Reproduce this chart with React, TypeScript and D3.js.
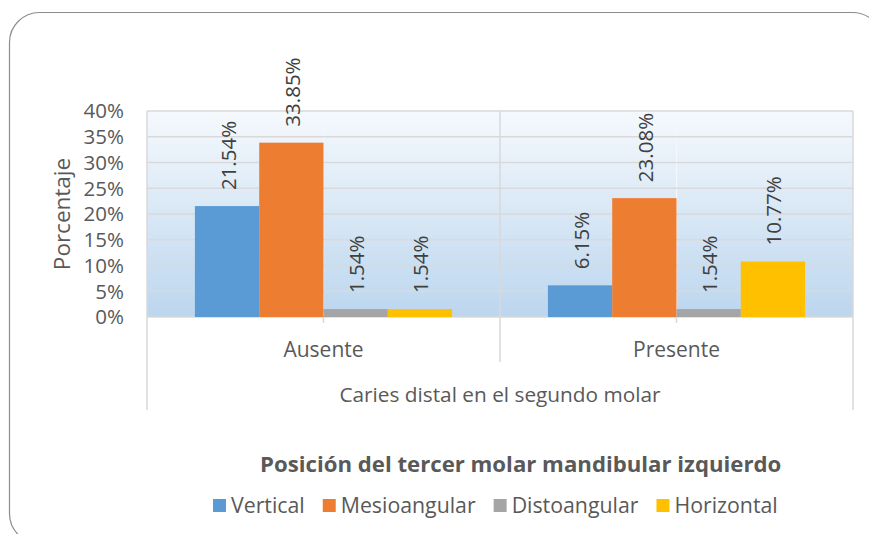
import React, { useEffect, useRef } from "react";
import * as d3 from "d3";

const categories = ["Ausente", "Presente"];
const seriesNames = ["Vertical", "Mesioangular", "Distoangular", "Horizontal"];
const seriesColors = ["#5B9BD5", "#ED7D31", "#A5A5A5", "#FFC000"];
const vertical = [21.54, 6.15];
const mesioangular = [33.85, 23.08];
const distoangular = [1.54, 1.54];
const horizontal = [1.54, 10.77];
const yTicks = [0, 5, 10, 15, 20, 25, 30, 35, 40];
const yTitle = "Porcentaje";
const xTitle = "Caries distal en el segundo molar";
const legendTitle = "Posición del tercer molar mandibular izquierdo";

const FONT = "'Open Sans', 'Noto Sans', sans-serif";

export default function App() {
  const ref = useRef<SVGSVGElement | null>(null);

  useEffect(() => {
    const svg = d3.select(ref.current);
    svg.selectAll("*").remove();
    const W = 869, H = 534;
    const left = 147, right = 853, top = 111, bottom = 317;

    const series = [vertical, mesioangular, distoangular, horizontal];

    const defs = svg.append("defs");
    const grad = defs.append("linearGradient").attr("id", "plotGrad")
      .attr("x1", 0).attr("y1", 0).attr("x2", 0).attr("y2", 1);
    grad.append("stop").attr("offset", "0%").attr("stop-color", "#f5f9fd");
    grad.append("stop").attr("offset", "100%").attr("stop-color", "#bcd6ee");

    svg.append("rect").attr("width", W).attr("height", H).attr("fill", "#ffffff");
    svg.append("rect").attr("x", 9.5).attr("y", 12.5).attr("width", 873).attr("height", 531)
      .attr("rx", 30).attr("fill", "#ffffff").attr("stroke", "#8c8c8c").attr("stroke-width", 1.2);

    const x0 = d3.scaleBand<string>().domain(categories).range([left, right]).padding(0);
    const x1 = d3.scaleBand<string>().domain(seriesNames).range([0, x0.bandwidth()])
      .paddingInner(0).paddingOuter(0.745);
    const y = d3.scaleLinear().domain([0, 40]).range([bottom, top]);

    svg.append("rect").attr("x", left).attr("y", top).attr("width", right - left)
      .attr("height", bottom - top).attr("fill", "url(#plotGrad)");

    // center lines inside plot
    categories.forEach((c) => {
      const cx = x0(c)! + x0.bandwidth() / 2;
      svg.append("line").attr("x1", cx).attr("x2", cx).attr("y1", top).attr("y2", bottom)
        .attr("stroke", "#f4f7fb").attr("stroke-width", 1.2);
      svg.append("line").attr("x1", cx).attr("x2", cx).attr("y1", bottom).attr("y2", bottom + 6)
        .attr("stroke", "#d9d9d9").attr("stroke-width", 1.5);
    });

    // horizontal gridlines
    yTicks.forEach((t) => {
      svg.append("line").attr("x1", left).attr("x2", right).attr("y1", y(t)).attr("y2", y(t))
        .attr("stroke", "#d9d9d9").attr("stroke-width", 1.5);
    });

    // vertical separators
    const bounds = [left, ...categories.slice(1).map((c) => x0(c)!), right];
    bounds.forEach((bx, i) => {
      const outer = i === 0 || i === bounds.length - 1;
      svg.append("line").attr("x1", bx).attr("x2", bx).attr("y1", top)
        .attr("y2", outer ? 410 : 362).attr("stroke", "#d9d9d9").attr("stroke-width", 1.5);
    });

    // bars
    categories.forEach((c, ci) => {
      seriesNames.forEach((s, si) => {
        const v = series[si][ci];
        const bx = x0(c)! + x1(s)!;
        svg.append("rect").attr("x", bx).attr("y", y(v)).attr("width", x1.bandwidth())
          .attr("height", bottom - y(v)).attr("fill", seriesColors[si]);
        const cx = bx + x1.bandwidth() / 2 + 8.5;
        const ly = y(v) - 16;
        svg.append("text").attr("transform", `translate(${cx},${ly}) rotate(-90)`)
          .attr("font-family", FONT).attr("font-size", 20.5).attr("fill", "#404040")
          .text(v.toFixed(2) + "%");
      });
    });

    // y tick labels
    yTicks.forEach((t) => {
      svg.append("text").attr("x", 124).attr("y", y(t)).attr("dy", "0.36em")
        .attr("text-anchor", "end").attr("font-family", FONT).attr("font-size", 20.5)
        .attr("fill", "#595959").text(t + "%");
    });

    // y title
    svg.append("text").attr("transform", `translate(70,${(top + bottom) / 2}) rotate(-90)`)
      .attr("text-anchor", "middle").attr("font-family", FONT).attr("font-size", 22.5)
      .attr("fill", "#595959").text(yTitle);

    // category labels
    categories.forEach((c) => {
      svg.append("text").attr("x", x0(c)! + x0.bandwidth() / 2).attr("y", 357)
        .attr("text-anchor", "middle").attr("font-family", FONT).attr("font-size", 21)
        .attr("fill", "#595959").text(c);
    });

    // x title
    svg.append("text").attr("x", (left + right) / 2).attr("y", 402)
      .attr("text-anchor", "middle").attr("font-family", FONT).attr("font-size", 20.8)
      .attr("fill", "#595959").text(xTitle);

    // legend title
    svg.append("text").attr("x", 260).attr("y", 472)
      .attr("font-family", FONT).attr("font-size", 22.2).attr("font-weight", "bold")
      .attr("fill", "#595959").text(legendTitle);

    // legend
    let lx = 213;
    seriesNames.forEach((s, si) => {
      svg.append("rect").attr("x", lx).attr("y", 499).attr("width", 13).attr("height", 13)
        .attr("fill", seriesColors[si]);
      const t = svg.append("text").attr("x", lx + 18).attr("y", 513)
        .attr("font-family", FONT).attr("font-size", 21.3).attr("fill", "#595959").text(s);
      const w = (t.node() as SVGTextElement).getComputedTextLength();
      lx += 18 + w + 18;
    });
  }, []);

  return (
    <svg ref={ref} width={869} height={534}
      style={{ position: "absolute", left: 0, top: 0, display: "block" }} />
  );
}
